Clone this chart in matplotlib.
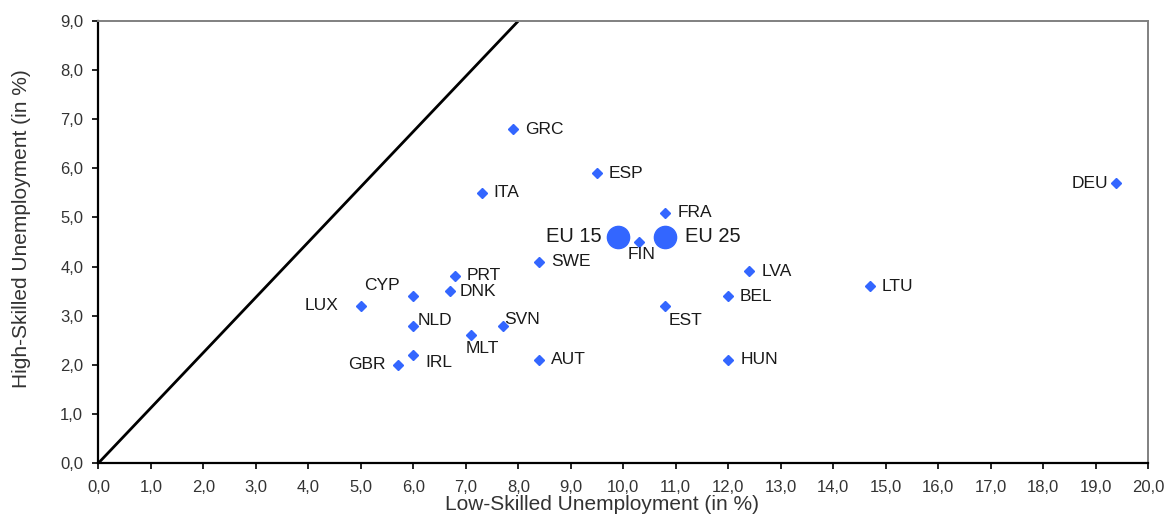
import matplotlib
matplotlib.use("Agg")
import matplotlib.pyplot as plt
from matplotlib.ticker import FuncFormatter, MultipleLocator

plt.rcParams['font.family'] = ['Liberation Sans', 'DejaVu Sans']

countries = ["GRC", "ESP", "ITA", "FRA", "FIN", "SWE", "LVA", "LTU", "DEU",
             "PRT", "DNK", "CYP", "LUX", "BEL", "EST", "NLD", "SVN", "MLT",
             "IRL", "GBR", "AUT", "HUN"]
low_skilled = [7.9, 9.5, 7.3, 10.8, 10.3, 8.4, 12.4, 14.7, 19.4,
               6.8, 6.7, 6.0, 5.0, 12.0, 10.8, 6.0, 7.7, 7.1,
               6.0, 5.7, 8.4, 12.0]
high_skilled = [6.8, 5.9, 5.5, 5.1, 4.5, 4.1, 3.9, 3.6, 5.7,
                3.8, 3.5, 3.4, 3.2, 3.4, 3.2, 2.8, 2.8, 2.6,
                2.2, 2.0, 2.1, 2.1]

eu_labels = ["EU 15", "EU 25"]
eu_low = [9.9, 10.8]
eu_high = [4.6, 4.6]

diag_x = [0, 8]
diag_y = [0, 9]

# label offsets in pixels (dx, dy, ha, va)
offsets = {
    "GRC": (12, 0, "left", "center"), "ESP": (12, 0, "left", "center"),
    "ITA": (12, 0, "left", "center"), "FRA": (12, 0, "left", "center"),
    "FIN": (3, -5, "center", "top"), "SWE": (12, 0, "left", "center"),
    "LVA": (12, 0, "left", "center"), "LTU": (12, 0, "left", "center"),
    "DEU": (-8, 0, "right", "center"), "PRT": (11, 1, "left", "center"),
    "DNK": (10, 0, "left", "center"), "CYP": (-31, 11, "center", "center"),
    "LUX": (-22, 0, "right", "center"), "BEL": (11, 0, "left", "center"),
    "EST": (3, -7, "left", "top"), "NLD": (4, 5, "left", "center"),
    "SVN": (2, 6, "left", "center"), "MLT": (11, -6, "center", "top"),
    "IRL": (12, -8, "left", "center"), "GBR": (-12, 0, "right", "center"),
    "AUT": (12, 0, "left", "center"), "HUN": (12, 0, "left", "center"),
}
eu_offsets = {"EU 15": (-16, 1, "right", "center"), "EU 25": (20, 1, "left", "center")}

fig = plt.figure(figsize=(11.67, 5.17), dpi=100)
ax = fig.add_axes([0.0844, 0.1044, 0.8993, 0.855])

ax.plot(diag_x, diag_y, color="black", lw=2.0, zorder=2, solid_capstyle="butt")
blue = "#3366FF"
ax.plot(low_skilled, high_skilled, linestyle="none", marker="D", ms=5.5,
        color=blue, mec=blue, zorder=3)
ax.plot(eu_low, eu_high, linestyle="none", marker="o", ms=16,
        color=blue, mec=blue, zorder=3)

pt = 0.72
for c, x, y in zip(countries, low_skilled, high_skilled):
    dx, dy, ha, va = offsets[c]
    ax.annotate(c, (x, y), xytext=(dx * pt, dy * pt), textcoords="offset points",
                ha=ha, va=va, fontsize=12.5, color="#1a1a1a")
for c, x, y in zip(eu_labels, eu_low, eu_high):
    dx, dy, ha, va = eu_offsets[c]
    ax.annotate(c, (x, y), xytext=(dx * pt, dy * pt), textcoords="offset points",
                ha=ha, va=va, fontsize=14.5, color="#1a1a1a")

ax.set_xlim(0, 20)
ax.set_ylim(0, 9)
ax.xaxis.set_major_locator(MultipleLocator(1))
ax.yaxis.set_major_locator(MultipleLocator(1))
fmt = FuncFormatter(lambda v, p: f"{v:.1f}".replace(".", ","))
ax.xaxis.set_major_formatter(fmt)
ax.yaxis.set_major_formatter(fmt)
ax.tick_params(direction="out", length=4, width=1.2, color="black",
               labelsize=12, labelcolor="#333333")
ax.tick_params(axis="x", pad=8)
ax.tick_params(axis="y", pad=7)

for s in ["left", "bottom"]:
    ax.spines[s].set_color("black")
    ax.spines[s].set_linewidth(1.6)
for s in ["top", "right"]:
    ax.spines[s].set_color("#808080")
    ax.spines[s].set_linewidth(1.4)

ax.set_xlabel("Low-Skilled Unemployment (in %)", fontsize=15, color="#333333", va="top")
ax.set_ylabel("High-Skilled Unemployment (in %)", fontsize=15, color="#333333")
ax.xaxis.set_label_coords(0.48, -0.073)
ax.yaxis.set_label_coords(-0.064, 0.53)

fig.savefig("out.png", dpi=100)
